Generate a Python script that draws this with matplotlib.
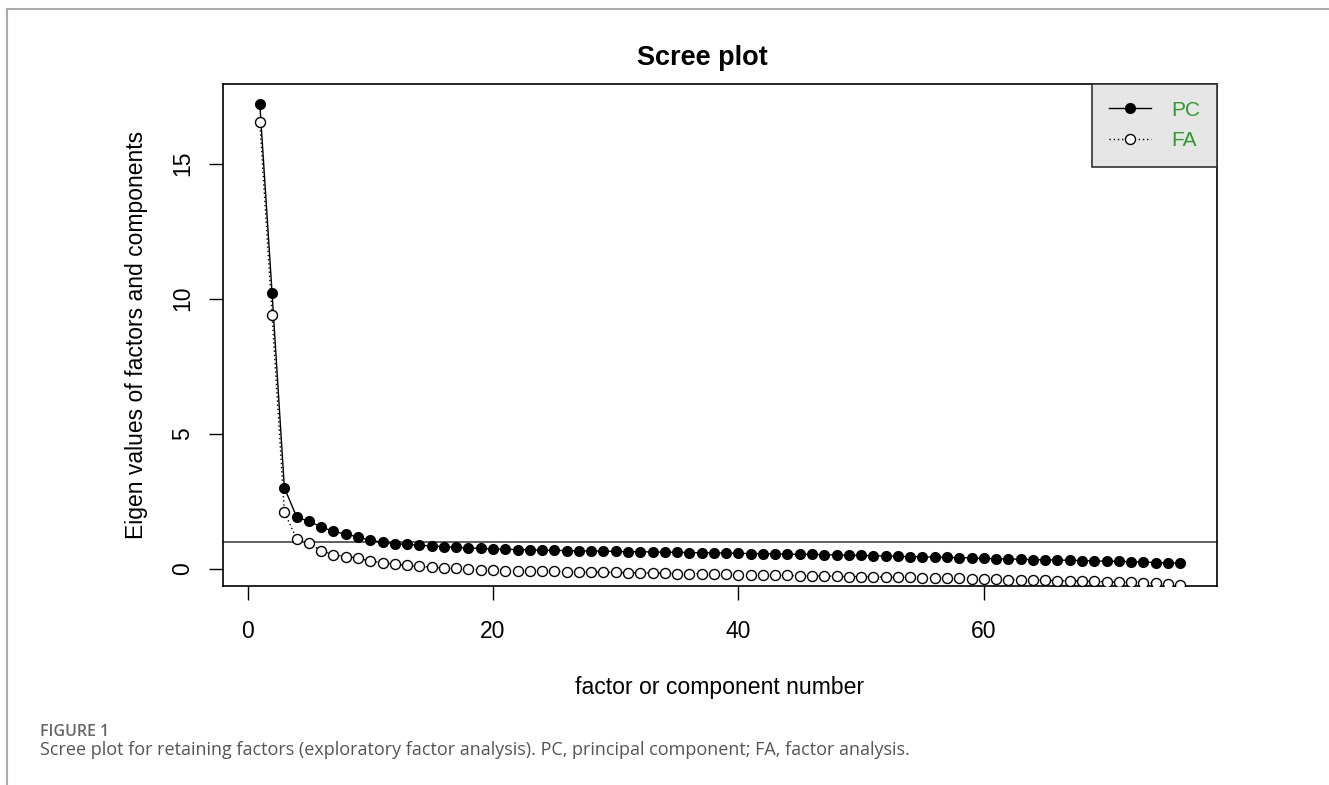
# Scree plot: eigen values of principal components (PC) and factor analysis (FA)
import matplotlib.pyplot as plt
from matplotlib.lines import Line2D

# Eigen values, one per factor / component number (1..76)
pc_values = [17.2, 10.2, 3.0, 1.92, 1.75, 1.55, 1.38, 1.28, 1.18, 1.05, 0.98, 0.93,
             0.90, 0.87, 0.84, 0.82, 0.79, 0.77, 0.75, 0.73,
             0.72, 0.71, 0.70, 0.69, 0.68, 0.67, 0.66, 0.66, 0.65, 0.64,
             0.63, 0.63, 0.62, 0.61, 0.61, 0.60, 0.59, 0.59, 0.58, 0.57,
             0.56, 0.56, 0.55, 0.54, 0.53, 0.53, 0.52, 0.51, 0.50, 0.49,
             0.48, 0.47, 0.46, 0.45, 0.44, 0.43, 0.42, 0.41, 0.40, 0.38,
             0.37, 0.36, 0.35, 0.34, 0.33, 0.32, 0.31, 0.30, 0.29, 0.28,
             0.27, 0.26, 0.25, 0.23, 0.22, 0.20]
fa_values = [16.55, 9.4, 2.1, 1.1, 0.94, 0.67, 0.52, 0.45, 0.40, 0.27, 0.23, 0.17,
             0.12, 0.09, 0.06, 0.03, 0.01, -0.02, -0.04, -0.06,
             -0.07, -0.08, -0.09, -0.09, -0.10, -0.11, -0.12, -0.12, -0.13, -0.14,
             -0.15, -0.15, -0.16, -0.17, -0.18, -0.18, -0.19, -0.20, -0.21, -0.22,
             -0.23, -0.23, -0.24, -0.25, -0.26, -0.26, -0.27, -0.28, -0.29, -0.29,
             -0.30, -0.31, -0.32, -0.32, -0.33, -0.34, -0.35, -0.36, -0.37, -0.38,
             -0.39, -0.40, -0.41, -0.42, -0.43, -0.44, -0.45, -0.46, -0.47, -0.48,
             -0.49, -0.50, -0.52, -0.54, -0.57, -0.62]
numbers = list(range(1, len(pc_values) + 1))
x_ticks = [0, 20, 40, 60]
y_ticks = [0, 5, 10, 15]

plt.rcParams['font.family'] = ['Liberation Sans', 'DejaVu Sans']
green = '#2e9b2e'

fig = plt.figure(figsize=(13.29, 7.85), dpi=100)

# page frame lines (top and left) as in the journal page
fig.add_artist(Line2D([7 / 1329, 1], [1 - 9 / 785, 1 - 9 / 785], color='#aaaaaa', lw=1.5))
fig.add_artist(Line2D([7 / 1329, 7 / 1329], [0, 1 - 9 / 785], color='#aaaaaa', lw=1.5))

ax = fig.add_axes([223 / 1329, 1 - 586 / 785, 994 / 1329, 502 / 785])

# lines first, then the points on top
ax.plot(numbers, pc_values, color='black', lw=1.0, zorder=2)
ax.plot(numbers, fa_values, color='black', lw=1.0, linestyle=(0, (1, 2)), zorder=2)
ax.plot(numbers, pc_values, linestyle='none', marker='o', ms=7.0,
        markerfacecolor='black', markeredgecolor='black', zorder=3)
ax.plot(numbers, fa_values, linestyle='none', marker='o', ms=7.2,
        markerfacecolor='white', markeredgecolor='black', markeredgewidth=1.0, zorder=3)
ax.axhline(1, color='#444444', lw=1.2, zorder=1)

ax.set_xlim(-2, 79)
ax.set_ylim(-0.64, 17.95)
ax.set_xticks(x_ticks)
ax.set_yticks(y_ticks)
ax.tick_params(length=10, width=1.0, labelsize=16.5)
ax.tick_params(axis='x', pad=14.5)
ax.tick_params(axis='y', pad=10.5)
for lab in ax.get_yticklabels():
    lab.set_rotation(90)
    lab.set_va('center')
for sp in ax.spines.values():
    sp.set_linewidth(1.2)

ax.set_xlabel('factor or component number', fontsize=16.6, labelpad=24)
ax.set_ylabel('Eigen values of factors and components', fontsize=16.5, labelpad=17)
fig.text(702 / 1329, 1 - 58 / 785, 'Scree plot', fontsize=19.5, fontweight='bold',
         ha='center', va='center')

handles = [Line2D([0], [0], color='black', lw=1.0, marker='o', ms=7.0,
                  markerfacecolor='black'),
           Line2D([0], [0], color='black', lw=1.0, linestyle=(0, (1, 2)), marker='o',
                  ms=7.2, markerfacecolor='white')]
leg = ax.legend(handles, ['PC', 'FA'], loc='upper right', fontsize=15,
                facecolor='#e6e6e6', edgecolor='#333333', framealpha=1, fancybox=False,
                borderaxespad=0, borderpad=0.8, handlelength=2.0, handletextpad=1.0,
                labelspacing=0.55)
leg.get_frame().set_linewidth(1.2)
for t in leg.get_texts():
    t.set_color(green)

# caption
fig.text(40 / 1329, 1 - 732 / 785, 'FIGURE 1', fontsize=11.5, color='#666666',
         fontfamily=['Open Sans'], fontweight='semibold', va='center')
fig.text(40 / 1329, 1 - 750 / 785,
         'Scree plot for retaining factors (exploratory factor analysis). '
         'PC, principal component; FA, factor analysis.',
         fontsize=13.0, color='#555555', fontfamily=['Open Sans'], va='center')

fig.savefig('out.png', dpi=100)
